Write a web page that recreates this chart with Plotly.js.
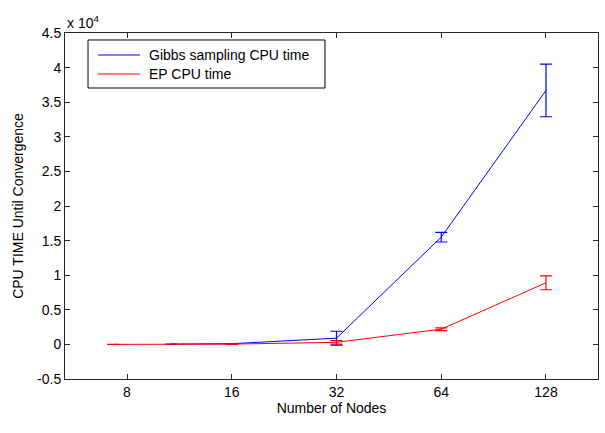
<!DOCTYPE html>
<html>
<head>
<meta charset="utf-8">
<script src="https://cdn.plot.ly/plotly-3.0.1.min.js"></script>
<style>html,body{margin:0;padding:0;background:#fff;}#chart{width:605px;height:433px;}</style>
</head>
<body>
<div id="chart"></div>
<script>
// Data (CPU time in seconds)
var seriesNames = ['Gibbs sampling CPU time', 'EP CPU time'];
var seriesColors = ['#0000ff', '#ff0000'];

var gibbsNodes = [10.7, 16, 32, 64, 128];
var gibbsTime  = [50, 100, 900, 15500, 36700];
var gibbsErr   = [0, 30, 1000, 700, 3800];

var epNodes = [7.3, 16, 32, 64, 128];
var epTime  = [0, 40, 300, 2200, 8900];
var epErr   = [0, 50, 250, 200, 1000];

var xTicks = [8, 16, 32, 64, 128];
var xTickText = ['8', '16', '32', '64', '128'];
var yTicks = [-5000, 0, 5000, 10000, 15000, 20000, 25000, 30000, 35000, 40000, 45000];
var yTickText = ['-0.5', '0', '0.5', '1', '1.5', '2', '2.5', '3', '3.5', '4', '4.5'];

var font = {family: 'Liberation Sans, Arial, sans-serif', size: 14, color: '#000'};

var traces = [
  {x: gibbsNodes, y: gibbsTime, name: seriesNames[0], mode: 'lines', showlegend: false,
   line: {color: seriesColors[0], width: 1},
   error_y: {type: 'data', array: gibbsErr, visible: true, color: seriesColors[0], thickness: 1.2, width: 6}},
  {x: epNodes, y: epTime, name: seriesNames[1], mode: 'lines', showlegend: false,
   line: {color: seriesColors[1], width: 1},
   error_y: {type: 'data', array: epErr, visible: true, color: seriesColors[1], thickness: 1.2, width: 6}}
];

var axisCommon = {showline: true, linecolor: '#262626', linewidth: 1, mirror: 'allticks',
  ticks: 'inside', ticklen: 5, tickcolor: '#262626', showgrid: false, zeroline: false,
  tickfont: font};

// MATLAB-style legend box (paper coordinates)
var legBox = {x0: 0.0432, x1: 0.4878, y0: 0.841, y1: 0.9798};
var legRowsY = [0.9364, 0.8815];
var legLineX = [0.0619, 0.1407];
var legTextX = 0.1538;

var shapes = [{type: 'rect', xref: 'paper', yref: 'paper', x0: legBox.x0, x1: legBox.x1,
  y0: legBox.y0, y1: legBox.y1, line: {color: '#000', width: 1}, fillcolor: '#fff', layer: 'above'}];
var annotations = [{xref: 'paper', yref: 'paper', x: 0, y: 1, xanchor: 'left', yanchor: 'bottom',
  text: 'x 10<sup>4</sup>', showarrow: false, font: font, yshift: 0}];
for (var i = 0; i < seriesNames.length; i++) {
  shapes.push({type: 'line', xref: 'paper', yref: 'paper', x0: legLineX[0], x1: legLineX[1],
    y0: legRowsY[i], y1: legRowsY[i], line: {color: seriesColors[i], width: 1}, layer: 'above'});
  annotations.push({xref: 'paper', yref: 'paper', x: legTextX, y: legRowsY[i], xanchor: 'left',
    yanchor: 'middle', text: seriesNames[i], showarrow: false, font: font});
}

var layout = {
  width: 605, height: 433,
  margin: {l: 65, r: 7, t: 33, b: 54},
  paper_bgcolor: '#fff', plot_bgcolor: '#fff',
  font: font,
  showlegend: false,
  xaxis: Object.assign({}, axisCommon, {type: 'log', range: [0.7249, 2.2567],
    tickvals: xTicks, ticktext: xTickText,
    title: {text: 'Number of Nodes', font: font, standoff: 2}}),
  yaxis: Object.assign({}, axisCommon, {range: [-5000, 45000],
    tickvals: yTicks, ticktext: yTickText,
    title: {text: 'CPU TIME Until Convergence', font: font, standoff: 10}}),
  shapes: shapes,
  annotations: annotations
};

Plotly.newPlot('chart', traces, layout, {displayModeBar: false, staticPlot: true});
</script>
</body>
</html>
